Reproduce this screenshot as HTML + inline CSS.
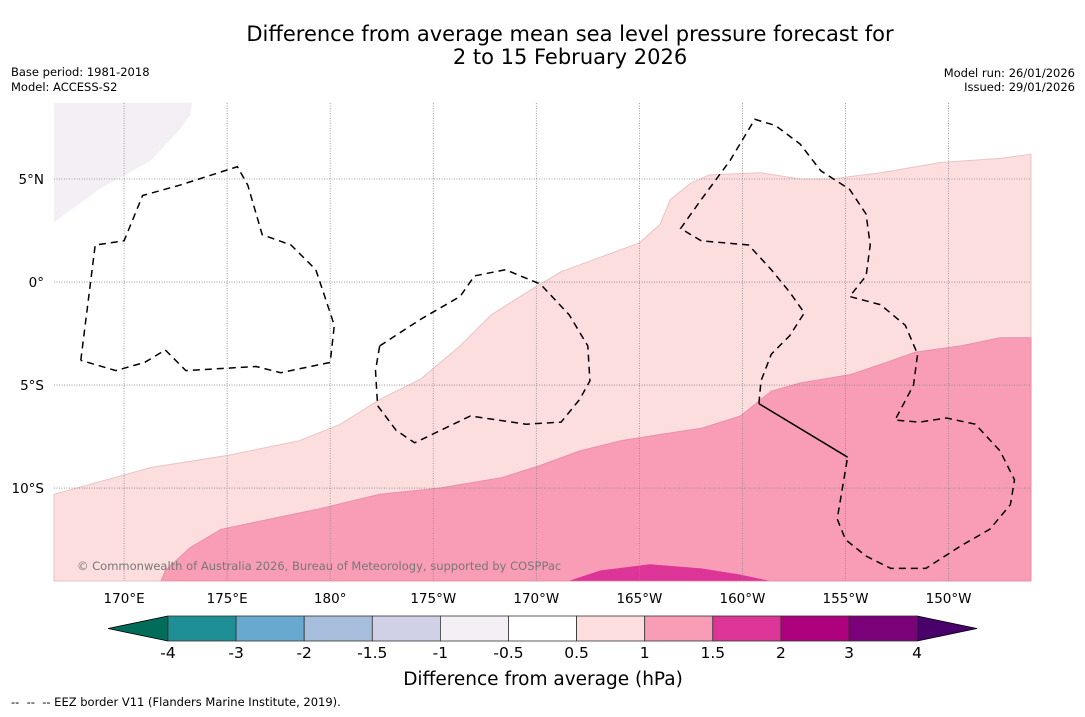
<!DOCTYPE html>
<html><head><meta charset="utf-8">
<style>
html,body{margin:0;padding:0;background:#fff;}
body{width:1085px;height:713px;overflow:hidden;font-family:"DejaVu Sans","Liberation Sans",sans-serif;}
svg text{font-family:"DejaVu Sans","Liberation Sans",sans-serif;white-space:pre;}
</style></head>
<body>
<svg id="chart" width="1085" height="713" viewBox="0 0 1085 713" xmlns="http://www.w3.org/2000/svg">
<text x="570" y="41" font-size="21" text-anchor="middle">Difference from average mean sea level pressure forecast for</text>
<text x="570" y="64" font-size="21" text-anchor="middle">2 to 15 February 2026</text>
<text x="11" y="76" font-size="11.5">Base period: 1981-2018</text>
<text x="11" y="91" font-size="11.5">Model: ACCESS-S2</text>
<text x="1075" y="77" font-size="11.5" text-anchor="end">Model run: 26/01/2026</text>
<text x="1075" y="91" font-size="11.5" text-anchor="end">Issued: 29/01/2026</text>
<g id="map"></g>
<g id="cbar"></g>
<text x="543" y="685" font-size="18.5" text-anchor="middle">Difference from average (hPa)</text>
<text x="11" y="706" font-size="11.5">--  --  -- EEZ border V11 (Flanders Marine Institute, 2019).</text>
</svg>
<script>
// ---- data ----
const lonTicks = [170, 175, 180, 185, 190, 195, 200, 205, 210];
const lonTickLabels = ["170°E","175°E","180°","175°W","170°W","165°W","160°W","155°W","150°W"];
const latTicks = [5, 0, -5, -10];
const latTickLabels = ["5°N","0°","5°S","10°S"];
const contour05 = [[166.6,-10.3],[171.3,-9.0],[175.1,-8.4],[178.5,-7.7],[180.5,-6.9],[182.4,-5.7],[184.4,-4.7],[186.3,-3.1],[187.8,-1.6],[189.7,-0.4],[191.2,0.5],[193.1,1.2],[195.0,1.9],[196.0,2.8],[196.5,4.0],[197.5,4.8],[198.4,5.2],[200.9,5.3],[202.8,5.0],[204.3,5.0],[206.7,5.3],[209.6,5.8],[212.5,6.0],[214.0,6.2]];
const contour10 = [[214,-2.7],[212.5,-2.7],[210.6,-3.1],[208.4,-3.4],[206.7,-4.0],[205.2,-4.5],[202.8,-4.9],[201.4,-5.3],[199.9,-6.5],[198.0,-7.1],[196.0,-7.4],[194.1,-7.7],[192.1,-8.2],[190.2,-8.9],[188.3,-9.5],[185.3,-10.0],[182.4,-10.3],[179.5,-11.0],[177.1,-11.5],[174.7,-12.0],[173.2,-12.9],[172.0,-14.0],[171.8,-14.5]];
const contour15 = [[191.6,-14.5],[193.1,-14.0],[195.5,-13.7],[198.0,-13.9],[199.9,-14.2],[201.3,-14.5]];
const contourNeg05 = [[166.6,2.9],[168.8,4.5],[171.3,5.9],[172.7,7.4],[173.2,8.1],[173.3,8.7]];
const eezA = [[167.9,-3.8],[168.6,1.8],[170.0,2.0],[170.9,4.2],[172.7,4.7],[175.5,5.6],[176.0,4.7],[176.7,2.3],[178.1,1.8],[179.3,0.6],[179.8,-0.9],[180.2,-2.1],[180.0,-3.9],[177.6,-4.4],[176.4,-4.1],[173.0,-4.3],[172.0,-3.3],[171.0,-3.9],[169.6,-4.3],[167.9,-3.8]];
const eezB = [[182.4,-3.1],[184.4,-1.8],[186.3,-0.7],[187.0,0.3],[188.5,0.6],[190.2,-0.1],[191.6,-1.6],[192.5,-3.1],[192.6,-4.8],[192.1,-5.7],[191.2,-6.8],[189.5,-6.9],[186.8,-6.5],[184.1,-7.8],[183.2,-7.2],[182.3,-6.0],[182.2,-4.3],[182.4,-3.1]];
const eezC = [[200.8,-5.9],[200.9,-4.8],[201.4,-3.5],[202.3,-2.6],[203.0,-1.5],[202.3,-0.5],[201.4,0.6],[200.3,1.8],[198.0,2.0],[197.0,2.6],[198.0,4.0],[199.4,5.9],[200.6,7.9],[201.6,7.6],[202.8,6.7],[203.8,5.4],[205.2,4.5],[206.0,3.3],[206.2,1.8],[206.0,0.3],[205.2,-0.7],[206.7,-1.1],[207.9,-2.1],[208.5,-3.5],[208.3,-5.0],[207.4,-6.7],[208.6,-6.8],[209.9,-6.6],[211.3,-6.9],[212.5,-8.2],[213.2,-9.6],[213.0,-10.8],[212.0,-12.0],[210.6,-12.8],[208.9,-13.9],[207.2,-13.9],[206.0,-13.3],[205.0,-12.5],[204.6,-11.5],[205.1,-8.5]];
const eezSolid = [[200.8,-5.9],[205.1,-8.5]];
const cbLevels = ["-4","-3","-2","-1.5","-1","-0.5","0.5","1","1.5","2","3","4"];
const cbColors = ["#1f8f96","#67a9cf","#a6bddb","#d0d1e6","#f3eff5","#ffffff","#fddede","#f99db6","#dd3497","#ae017e","#7a0177"];

// ---- axes ----
const LON0=166.6, LON1=214.0, LAT0=-14.51, LAT1=8.69;
const X0=54, X1=1031, Y0=103, Y1=581;
const sx = lon => X0 + (lon-LON0)/(LON1-LON0)*(X1-X0);
const sy = lat => Y0 + (LAT1-lat)/(LAT1-LAT0)*(Y1-Y0);
const NS='http://www.w3.org/2000/svg';
const map=document.getElementById('map');
function mk(tag,attrs,parent){const e=document.createElementNS(NS,tag);for(const k in attrs)e.setAttribute(k,attrs[k]);(parent||map).appendChild(e);return e;}
const pts = arr => arr.map(p=>sx(p[0]).toFixed(1)+','+sy(p[1]).toFixed(1)).join(' ');

let p;
p=mk('polygon',{points:pts(contour05)+' '+X1+','+Y1+' '+X0+','+Y1,fill:'#fddede',stroke:'#e8c4c4','stroke-width':1});


p=mk('polygon',{points:pts(contour10)+' '+X1+','+Y1,fill:'#f99db6',stroke:'#e890a8','stroke-width':1});


p=mk('polygon',{points:pts(contour15),fill:'#dd3497'});


p=mk('polygon',{points:pts(contourNeg05)+' '+X0+','+Y0,fill:'#f3eff5'});



lonTicks.forEach((lon,i)=>{
  const l=mk('line',{x1:sx(lon),x2:sx(lon),y1:Y0,y2:Y1,stroke:'#888','stroke-width':0.8,'stroke-dasharray':'1,1.5'});
  
  
  const t=mk('text',{x:sx(lon),y:603,'font-size':13.5,'text-anchor':'middle'});
  t.textContent=lonTickLabels[i];
  
  
});
latTicks.forEach((lat,i)=>{
  const l=mk('line',{x1:X0,x2:X1,y1:sy(lat),y2:sy(lat),stroke:'#888','stroke-width':0.8,'stroke-dasharray':'1,1.5'});
  
  
  const t=mk('text',{x:44,y:sy(lat)+5,'font-size':13.5,'text-anchor':'end'});
  t.textContent=latTickLabels[i];
  
  
});
[eezA,eezB,eezC].forEach(arr=>{
  const e=mk('polyline',{points:pts(arr),fill:'none',stroke:'#000','stroke-width':1.5,'stroke-dasharray':'7,5'});
  
  
});
p=mk('polyline',{points:pts(eezSolid),fill:'none',stroke:'#000','stroke-width':1.5});



p=mk('text',{x:77,y:570,'font-size':11.5,fill:'#777'});
p.textContent='© Commonwealth of Australia 2026, Bureau of Meteorology, supported by COSPPac';



// ---- colorbar ----
const cb=document.getElementById('cbar');
const CB0=168, CBW=68.1, CBY=616, CBH=25;
p=mk('polygon',{points:'108,628.5 '+CB0+','+CBY+' '+CB0+','+(CBY+CBH),fill:'#016c59',stroke:'#000','stroke-width':0.8},cb);


const CBE=CB0+CBW*cbColors.length;
p=mk('polygon',{points:CBE+','+CBY+' 977,628.5 '+CBE+','+(CBY+CBH),fill:'#49006a',stroke:'#000','stroke-width':0.8},cb);


cbColors.forEach((c,i)=>{
  const r=mk('rect',{x:CB0+i*CBW,y:CBY,width:CBW,height:CBH,fill:c,stroke:'#333','stroke-width':0.8},cb);
  
  
});
cbLevels.forEach((lv,i)=>{
  const t=mk('text',{x:CB0+i*CBW,y:658,'font-size':15.5,'text-anchor':'middle'},cb);
  t.textContent=lv;
  
  
});
</script>
</body></html>
